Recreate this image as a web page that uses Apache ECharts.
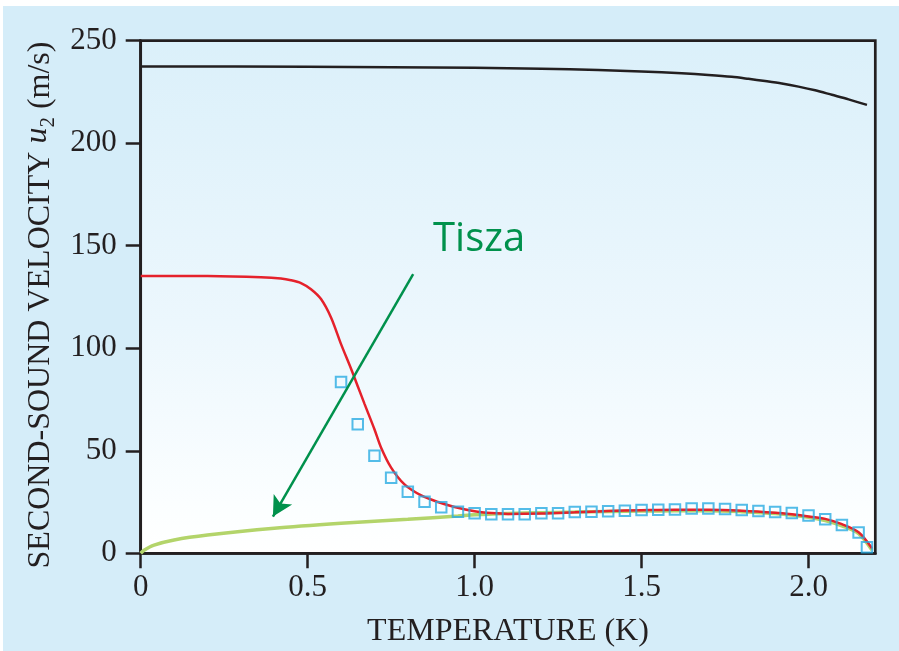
<!DOCTYPE html>
<html>
<head>
<meta charset="utf-8">
<script src="https://cdn.jsdelivr.net/npm/echarts@6/dist/echarts.min.js"></script>
<style>
  html, body { margin: 0; padding: 0; background: #ffffff; width: 899px; height: 651px; overflow: hidden; }
  #chart { position: absolute; left: 3px; top: 6px; width: 896px; height: 645px; }
</style>
</head>
<body>
<div id="chart"></div>
<script>
// Temperature ticks (K) and velocity ticks (m/s)
const xTicks = [0, 0.5, 1.0, 1.5, 2.0];
const yTicks = [0, 50, 100, 150, 200, 250];

// Measured second-sound velocity (open squares)
const measT = [0.60, 0.65, 0.70, 0.75, 0.80, 0.85, 0.90, 0.95, 1.00, 1.05, 1.10, 1.15, 1.20, 1.25,
               1.30, 1.35, 1.40, 1.45, 1.50, 1.55, 1.60, 1.65, 1.70, 1.75, 1.80, 1.85, 1.90, 1.95,
               2.00, 2.05, 2.10, 2.15, 2.175];
const measU = [83.6, 62.9, 47.6, 36.9, 30.0, 25.2, 22.4, 20.3, 19.5, 19.0, 19.0, 19.0, 19.5, 19.5,
               20.1, 20.3, 20.5, 20.8, 21.1, 21.3, 21.4, 21.8, 21.8, 21.6, 21.1, 20.6, 20.1, 19.7,
               18.4, 16.6, 13.8, 10.1, 2.9];

// Upper (black) curve
const blackT = [0, 0.5, 1.0, 1.2, 1.37, 1.5, 1.62, 1.70, 1.77, 1.82, 1.87, 1.92, 1.97, 2.02, 2.07, 2.12, 2.175];
const blackU = [237.4, 237.3, 236.8, 236.3, 235.7, 235.0, 234.1, 233.3, 232.4, 231.4, 230.3, 229.1, 227.6, 225.8, 223.6, 221.4, 218.7];

// Red theory curve
const redT = [0, 0.2, 0.36, 0.42, 0.45, 0.48, 0.51, 0.54, 0.57, 0.60, 0.63, 0.65, 0.67, 0.70, 0.72, 0.75,
              0.79, 0.84, 0.89, 0.94, 1.00, 1.05, 1.10, 1.20, 1.30, 1.40, 1.50, 1.60, 1.70, 1.80,
              1.90, 1.95, 2.00, 2.05, 2.10, 2.15, 2.19];
const redU = [135.3, 135.2, 134.6, 134.0, 133.2, 131.8, 128.8, 124.0, 115.0, 102.0, 90.0, 81.5, 73.0, 60.5, 51.5, 41.8,
              33.6, 28.2, 25.0, 22.6, 20.5, 19.6, 19.2, 19.4, 20.0, 20.6, 21.0, 21.3, 21.3, 20.8,
              19.8, 19.0, 18.0, 16.8, 14.2, 10.3, 2.5];

// Tisza (light green) curve
const tiszaT = [0, 0.01, 0.04, 0.10, 0.20, 0.40, 0.60, 0.80, 0.95, 1.00, 1.10, 1.20, 1.30, 1.40,
                1.50, 1.60, 1.70, 1.80, 1.90, 2.00, 2.05, 2.10, 2.15, 2.19];
const tiszaU = [0, 1.5, 4.0, 6.5, 8.9, 12.2, 14.6, 16.6, 18.2, 18.8, 19.4, 19.8, 20.1, 20.4,
                20.6, 20.8, 20.8, 20.3, 19.4, 17.6, 16.0, 13.4, 9.6, 1.6];

// Pointer from the "Tisza" label to its curve: [T, u] of tail and head
const pointerTail = [0.816, 136.2];
const pointerHead = [0.396, 17.9];

const zip = (xs, ys) => xs.map((x, i) => [x, ys[i]]);

const ink = '#231f20';
const serif = '"Liberation Serif", "DejaVu Serif", serif';
const labelGreen = '#00914c';

const chart = echarts.init(document.getElementById('chart'), null, { renderer: 'canvas' });

chart.setOption({
  animation: false,
  backgroundColor: '#d5edf9',
  grid: {
    left: 137.7, top: 34.7, right: 23.7, bottom: 97.7,
    outerBoundsMode: 'none',
    show: true,
    borderColor: ink,
    borderWidth: 2.7,
    backgroundColor: new echarts.graphic.LinearGradient(0, 0, 0, 1, [
      { offset: 0, color: '#dbf0fa' },
      { offset: 0.55, color: '#ecf7fd' },
      { offset: 0.9, color: '#fbfeff' },
      { offset: 1, color: '#ffffff' }
    ])
  },
  xAxis: {
    type: 'value',
    min: 0, max: 2.2,
    name: 'TEMPERATURE (K)',
    nameLocation: 'middle',
    nameGap: 62,
    nameTextStyle: { fontFamily: serif, fontSize: 32, color: ink },
    splitLine: { show: false },
    axisLine: { onZero: false, lineStyle: { color: ink, width: 2.7 } },
    axisTick: { show: true, inside: false, length: 15, customValues: xTicks, lineStyle: { color: ink, width: 2.5 } },
    axisLabel: {
      customValues: xTicks,
      margin: 19,
      fontFamily: serif, fontSize: 31, color: ink,
      formatter: v => (v === 0 ? '0' : v.toFixed(1))
    }
  },
  yAxis: {
    type: 'value',
    min: 0, max: 250, interval: 50,
    name: 'SECOND-SOUND VELOCITY {u|u}{s|2} (m/s)',
    nameLocation: 'middle',
    nameGap: 80,
    nameTextStyle: {
      fontFamily: serif, fontSize: 32, color: ink, verticalAlign: 'top', lineHeight: 32,
      padding: [0, 16, 0, 0],
      rich: {
        u: { fontFamily: serif, fontSize: 32, fontStyle: 'italic', color: ink, verticalAlign: 'top', lineHeight: 32 },
        s: { fontFamily: serif, fontSize: 21, color: ink, verticalAlign: 'bottom', lineHeight: 38 }
      }
    },
    splitLine: { show: false },
    axisLine: { lineStyle: { color: ink, width: 2.7 } },
    axisTick: { show: true, inside: false, length: 15, lineStyle: { color: ink, width: 2.5 } },
    axisLabel: { margin: 24, fontFamily: serif, fontSize: 31, color: ink }
  },
  series: [
    {
      name: 'Tisza',
      type: 'line',
      data: zip(tiszaT, tiszaU),
      smooth: 0.3,
      showSymbol: false,
      silent: true,
      z: 2,
      lineStyle: { color: '#b3d46a', width: 3.5 },
      markLine: {
        silent: true,
        symbol: ['none', 'arrow'],
        symbolSize: [16, 20],
        label: { show: false },
        lineStyle: { color: labelGreen, width: 2.5, type: 'solid' },
        data: [[{ coord: pointerTail }, { coord: pointerHead }]]
      }
    },
    {
      name: 'theory',
      type: 'line',
      data: zip(redT, redU),
      smooth: 0.3,
      showSymbol: false,
      silent: true,
      z: 3,
      lineStyle: { color: '#e5212b', width: 2.5 }
    },
    {
      name: 'upper',
      type: 'line',
      data: zip(blackT, blackU),
      smooth: 0.3,
      showSymbol: false,
      silent: true,
      z: 3,
      lineStyle: { color: ink, width: 2.5 }
    },
    {
      name: 'measured',
      type: 'scatter',
      data: zip(measT, measU),
      symbol: 'rect',
      symbolSize: 10.5,
      silent: true,
      z: 4,
      itemStyle: { color: 'rgba(255,255,255,0)', borderColor: '#29abe2', borderWidth: 2 }
    }
  ],
  graphic: [
    {
      type: 'text',
      left: 430,
      top: 214,
      silent: true,
      style: {
        text: 'Tisza',
        fill: labelGreen,
        font: '40px "Open Sans", "Noto Sans", sans-serif'
      }
    }
  ]
});
</script>
</body>
</html>
